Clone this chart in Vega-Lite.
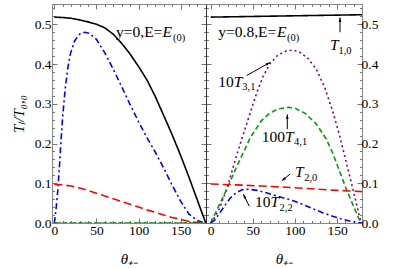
{
  "$schema": "https://vega.github.io/schema/vega-lite/v6.json",
  "padding": {"left": 10, "top": 0, "right": 0, "bottom": 0},
  "spacing": 0,
  "bounds": "flush",
  "config": {
    "font": "Liberation Serif",
    "view": {"stroke": "#888", "strokeWidth": 1},
    "axis": {"grid": false, "domain": false, "tickColor": "#777", "labelColor": "black", "labelFont": "Liberation Serif", "labelFontSize": 13.5, "titleFont": "Liberation Serif", "titleFontWeight": "normal", "titleFontStyle": "italic", "titleFontSize": 15, "titleColor": "black", "labelOverlap": false, "labelFlush": false}
  },
  "datasets": {
    "curves": [
      {"p":"a","s":"T10","t":0,"v":0.518},{"p":"a","s":"T10","t":10,"v":0.517},{"p":"a","s":"T10","t":20,"v":0.515},{"p":"a","s":"T10","t":30,"v":0.511},{"p":"a","s":"T10","t":40,"v":0.506},{"p":"a","s":"T10","t":50,"v":0.5},{"p":"a","s":"T10","t":60,"v":0.491},{"p":"a","s":"T10","t":70,"v":0.475},{"p":"a","s":"T10","t":80,"v":0.452},{"p":"a","s":"T10","t":90,"v":0.425},{"p":"a","s":"T10","t":100,"v":0.394},{"p":"a","s":"T10","t":110,"v":0.36},{"p":"a","s":"T10","t":120,"v":0.318},{"p":"a","s":"T10","t":130,"v":0.27},{"p":"a","s":"T10","t":140,"v":0.222},{"p":"a","s":"T10","t":150,"v":0.17},{"p":"a","s":"T10","t":160,"v":0.115},{"p":"a","s":"T10","t":170,"v":0.057},{"p":"a","s":"T10","t":175,"v":0.028},{"p":"a","s":"T10","t":180,"v":0},
      {"p":"a","s":"T22","t":0,"v":0},{"p":"a","s":"T22","t":2,"v":0.035},{"p":"a","s":"T22","t":4,"v":0.08},{"p":"a","s":"T22","t":6,"v":0.14},{"p":"a","s":"T22","t":8,"v":0.21},{"p":"a","s":"T22","t":10,"v":0.27},{"p":"a","s":"T22","t":13,"v":0.34},{"p":"a","s":"T22","t":16,"v":0.39},{"p":"a","s":"T22","t":19,"v":0.425},{"p":"a","s":"T22","t":24,"v":0.458},{"p":"a","s":"T22","t":30,"v":0.475},{"p":"a","s":"T22","t":36,"v":0.48},{"p":"a","s":"T22","t":42,"v":0.477},{"p":"a","s":"T22","t":50,"v":0.462},{"p":"a","s":"T22","t":60,"v":0.428},{"p":"a","s":"T22","t":70,"v":0.387},{"p":"a","s":"T22","t":80,"v":0.343},{"p":"a","s":"T22","t":90,"v":0.298},{"p":"a","s":"T22","t":100,"v":0.255},{"p":"a","s":"T22","t":110,"v":0.215},{"p":"a","s":"T22","t":120,"v":0.178},{"p":"a","s":"T22","t":130,"v":0.138},{"p":"a","s":"T22","t":140,"v":0.095},{"p":"a","s":"T22","t":150,"v":0.055},{"p":"a","s":"T22","t":160,"v":0.022},{"p":"a","s":"T22","t":170,"v":0.006},{"p":"a","s":"T22","t":177,"v":0.001},{"p":"a","s":"T22","t":180,"v":0},
      {"p":"a","s":"T20","t":0,"v":0.097},{"p":"a","s":"T20","t":10,"v":0.096},{"p":"a","s":"T20","t":20,"v":0.093},{"p":"a","s":"T20","t":30,"v":0.088},{"p":"a","s":"T20","t":40,"v":0.082},{"p":"a","s":"T20","t":50,"v":0.075},{"p":"a","s":"T20","t":60,"v":0.068},{"p":"a","s":"T20","t":70,"v":0.061},{"p":"a","s":"T20","t":80,"v":0.054},{"p":"a","s":"T20","t":90,"v":0.047},{"p":"a","s":"T20","t":100,"v":0.04},{"p":"a","s":"T20","t":110,"v":0.033},{"p":"a","s":"T20","t":120,"v":0.027},{"p":"a","s":"T20","t":130,"v":0.02},{"p":"a","s":"T20","t":140,"v":0.014},{"p":"a","s":"T20","t":150,"v":0.009},{"p":"a","s":"T20","t":160,"v":0.004},{"p":"a","s":"T20","t":170,"v":0.001},{"p":"a","s":"T20","t":180,"v":0},
      {"p":"a","s":"T31","t":0,"v":0},{"p":"a","s":"T31","t":45,"v":0},{"p":"a","s":"T31","t":90,"v":0},{"p":"a","s":"T31","t":135,"v":0},{"p":"a","s":"T31","t":180,"v":0},
      {"p":"a","s":"T41","t":0,"v":0},{"p":"a","s":"T41","t":45,"v":0},{"p":"a","s":"T41","t":90,"v":0},{"p":"a","s":"T41","t":135,"v":0},{"p":"a","s":"T41","t":180,"v":0},
      {"p":"b","s":"T10","t":0,"v":0.518},{"p":"b","s":"T10","t":90,"v":0.521},{"p":"b","s":"T10","t":180,"v":0.524},
      {"p":"b","s":"T31","t":0,"v":0},{"p":"b","s":"T31","t":5,"v":0.015},{"p":"b","s":"T31","t":10,"v":0.035},{"p":"b","s":"T31","t":19,"v":0.085},{"p":"b","s":"T31","t":30,"v":0.165},{"p":"b","s":"T31","t":40,"v":0.232},{"p":"b","s":"T31","t":47,"v":0.278},{"p":"b","s":"T31","t":55,"v":0.33},{"p":"b","s":"T31","t":62,"v":0.368},{"p":"b","s":"T31","t":70,"v":0.4},{"p":"b","s":"T31","t":80,"v":0.423},{"p":"b","s":"T31","t":90,"v":0.433},{"p":"b","s":"T31","t":98,"v":0.435},{"p":"b","s":"T31","t":105,"v":0.431},{"p":"b","s":"T31","t":115,"v":0.415},{"p":"b","s":"T31","t":125,"v":0.388},{"p":"b","s":"T31","t":135,"v":0.343},{"p":"b","s":"T31","t":145,"v":0.28},{"p":"b","s":"T31","t":153,"v":0.22},{"p":"b","s":"T31","t":161,"v":0.152},{"p":"b","s":"T31","t":170,"v":0.075},{"p":"b","s":"T31","t":177,"v":0.012},{"p":"b","s":"T31","t":180,"v":0},
      {"p":"b","s":"T41","t":0,"v":0},{"p":"b","s":"T41","t":10,"v":0.045},{"p":"b","s":"T41","t":21,"v":0.094},{"p":"b","s":"T41","t":30,"v":0.138},{"p":"b","s":"T41","t":39,"v":0.178},{"p":"b","s":"T41","t":47,"v":0.215},{"p":"b","s":"T41","t":60,"v":0.257},{"p":"b","s":"T41","t":70,"v":0.276},{"p":"b","s":"T41","t":80,"v":0.287},{"p":"b","s":"T41","t":92,"v":0.291},{"p":"b","s":"T41","t":100,"v":0.289},{"p":"b","s":"T41","t":112,"v":0.276},{"p":"b","s":"T41","t":125,"v":0.25},{"p":"b","s":"T41","t":137,"v":0.212},{"p":"b","s":"T41","t":145,"v":0.175},{"p":"b","s":"T41","t":153,"v":0.13},{"p":"b","s":"T41","t":161,"v":0.085},{"p":"b","s":"T41","t":170,"v":0.04},{"p":"b","s":"T41","t":177,"v":0.005},{"p":"b","s":"T41","t":180,"v":0},
      {"p":"b","s":"T20","t":0,"v":0.098},{"p":"b","s":"T20","t":30,"v":0.096},{"p":"b","s":"T20","t":60,"v":0.093},{"p":"b","s":"T20","t":90,"v":0.09},{"p":"b","s":"T20","t":120,"v":0.086},{"p":"b","s":"T20","t":150,"v":0.082},{"p":"b","s":"T20","t":180,"v":0.079},
      {"p":"b","s":"T22","t":0,"v":0},{"p":"b","s":"T22","t":5,"v":0.008},{"p":"b","s":"T22","t":11,"v":0.026},{"p":"b","s":"T22","t":17,"v":0.045},{"p":"b","s":"T22","t":23,"v":0.062},{"p":"b","s":"T22","t":30,"v":0.076},{"p":"b","s":"T22","t":38,"v":0.084},{"p":"b","s":"T22","t":45,"v":0.085},{"p":"b","s":"T22","t":55,"v":0.082},{"p":"b","s":"T22","t":66,"v":0.076},{"p":"b","s":"T22","t":80,"v":0.067},{"p":"b","s":"T22","t":90,"v":0.061},{"p":"b","s":"T22","t":98,"v":0.056},{"p":"b","s":"T22","t":110,"v":0.046},{"p":"b","s":"T22","t":120,"v":0.037},{"p":"b","s":"T22","t":133,"v":0.026},{"p":"b","s":"T22","t":145,"v":0.017},{"p":"b","s":"T22","t":157,"v":0.009},{"p":"b","s":"T22","t":167,"v":0.004},{"p":"b","s":"T22","t":175,"v":0.001},{"p":"b","s":"T22","t":180,"v":0}
    ],
    "roman": [
      {"p":"a","x":73.3,"y":0.467,"text":"y=0,E="},
      {"p":"b","x":9.0,"y":0.467,"text":"y=0.8,E="},
      {"p":"b","x":9.0,"y":0.342,"text":"10"},
      {"p":"b","x":60.5,"y":0.205,"text":"100"},
      {"p":"b","x":52.6,"y":0.039,"text":"10"}
    ],
    "italic": [
      {"p":"a","x":128.5,"y":0.467,"text":"E"},
      {"p":"b","x":78.7,"y":0.467,"text":"E"},
      {"p":"b","x":141.6,"y":0.4345,"text":"T"},
      {"p":"b","x":27.4,"y":0.342,"text":"T"},
      {"p":"b","x":88.2,"y":0.205,"text":"T"},
      {"p":"b","x":100.1,"y":0.1146,"text":"T"},
      {"p":"b","x":71.0,"y":0.039,"text":"T"}
    ],
    "sub": [
      {"p":"a","x":141.0,"y":0.458,"text":"(0)"},
      {"p":"b","x":90.6,"y":0.458,"text":"(0)"},
      {"p":"b","x":151.7,"y":0.4257,"text":"1,0"},
      {"p":"b","x":37.5,"y":0.334,"text":"3,1"},
      {"p":"b","x":99.0,"y":0.196,"text":"4,1"},
      {"p":"b","x":110.9,"y":0.1058,"text":"2,0"},
      {"p":"b","x":81.8,"y":0.03,"text":"2,2"}
    ],
    "arrows": [
      {"s":"T10","x":153.5,"y":0.48,"x2":153.5,"y2":0.517},
      {"s":"T31","x":42.7,"y":0.371,"x2":70.4,"y2":0.404},
      {"s":"T41","x":90.9,"y":0.236,"x2":90.9,"y2":0.273},
      {"s":"T20","x":94.1,"y":0.123,"x2":84.3,"y2":0.106},
      {"s":"T22","x":45.8,"y":0.042,"x2":38.7,"y2":0.0725}
    ]
  },
  "hconcat": [
    {
      "width": 154,
      "height": 219,
      "resolve": {"axis": {"x": "independent", "y": "independent"}},
      "layer": [
        {
          "data": {"name": "curves"},
          "transform": [{"filter": "datum.p === 'a'"}],
          "mark": {"type": "line", "strokeWidth": 1.6, "clip": true},
          "encoding": {
            "x": {"field": "t", "type": "quantitative", "title": "θ₊₋",
              "scale": {"domain": [-2.8, 180.2], "nice": false, "zero": false},
              "axis": {"orient": "bottom", "values": [0,10,20,30,40,50,60,70,80,90,100,110,120,130,140,150,160,170,180],
                "labelExpr": "datum.value % 50 === 0 ? datum.label : ''",
                "tickSize": {"condition": {"test": "datum.value % 50 === 0", "value": -5}, "value": -2.5},
                "labelPadding": 5, "titlePadding": 12}},
            "y": {"field": "v", "type": "quantitative", "title": "Tₗ/T₀,₀",
              "scale": {"domain": [0, 0.551], "nice": false},
              "axis": {"orient": "left", "values": [0,0.02,0.04,0.06,0.08,0.1,0.12,0.14,0.16,0.18,0.2,0.22,0.24,0.26,0.28,0.3,0.32,0.34,0.36,0.38,0.4,0.42,0.44,0.46,0.48,0.5,0.52,0.54],
                "labelExpr": "abs(datum.value*10 - round(datum.value*10)) < 0.001 ? format(datum.value, '.1f') : ''",
                "tickSize": {"condition": {"test": "abs(datum.value*10 - round(datum.value*10)) < 0.001", "value": -5}, "value": -2.5},
                "labelPadding": 6, "titlePadding": 8}},
            "color": {"field": "s", "type": "nominal", "legend": null,
              "scale": {"domain": ["T10","T22","T20","T41","T31"], "range": ["#000000","#0000ff","#ff0000","#00a000","#800080"]}},
            "strokeDash": {"field": "s", "type": "nominal", "legend": null,
              "scale": {"domain": ["T10","T22","T20","T41","T31"], "range": [[1,0],[6,3,2,3],[8,4],[5,3],[2,3]]}}
          }
        },
        {
          "data": {"name": "curves"},
          "transform": [{"filter": "datum.p === 'a'"}],
          "mark": {"type": "point", "opacity": 0},
          "encoding": {
            "x": {"field": "t", "type": "quantitative",
              "axis": {"orient": "top", "title": null, "labels": false, "values": [0,10,20,30,40,50,60,70,80,90,100,110,120,130,140,150,160,170,180],
                "tickSize": {"condition": {"test": "datum.value % 50 === 0", "value": -5}, "value": -2.5}}},
            "y": {"field": "v", "type": "quantitative",
              "axis": {"orient": "right", "title": null, "labels": false, "values": [0,0.02,0.04,0.06,0.08,0.1,0.12,0.14,0.16,0.18,0.2,0.22,0.24,0.26,0.28,0.3,0.32,0.34,0.36,0.38,0.4,0.42,0.44,0.46,0.48,0.5,0.52,0.54],
                "tickSize": {"condition": {"test": "abs(datum.value*10 - round(datum.value*10)) < 0.001", "value": -5}, "value": -2.5}}}
          }
        },
        {
          "data": {"name": "roman"},
          "transform": [{"filter": "datum.p === 'a'"}],
          "mark": {"type": "text", "align": "left", "baseline": "alphabetic", "fontSize": 15.5, "color": "black"},
          "encoding": {"x": {"field": "x", "type": "quantitative", "axis": null}, "y": {"field": "y", "type": "quantitative", "axis": null}, "text": {"field": "text"}}
        },
        {
          "data": {"name": "italic"},
          "transform": [{"filter": "datum.p === 'a'"}],
          "mark": {"type": "text", "align": "left", "baseline": "alphabetic", "fontSize": 15.5, "fontStyle": "italic", "color": "black"},
          "encoding": {"x": {"field": "x", "type": "quantitative", "axis": null}, "y": {"field": "y", "type": "quantitative", "axis": null}, "text": {"field": "text"}}
        },
        {
          "data": {"name": "sub"},
          "transform": [{"filter": "datum.p === 'a'"}],
          "mark": {"type": "text", "align": "left", "baseline": "alphabetic", "fontSize": 10.5, "color": "black"},
          "encoding": {"x": {"field": "x", "type": "quantitative", "axis": null}, "y": {"field": "y", "type": "quantitative", "axis": null}, "text": {"field": "text"}}
        }
      ]
    },
    {
      "width": 156,
      "height": 219,
      "resolve": {"axis": {"x": "independent", "y": "independent"}},
      "layer": [
        {
          "data": {"name": "curves"},
          "transform": [{"filter": "datum.p === 'b'"}],
          "mark": {"type": "line", "strokeWidth": 1.6, "clip": true},
          "encoding": {
            "x": {"field": "t", "type": "quantitative", "title": "θ₊₋",
              "scale": {"domain": [-5.6, 179.6], "nice": false, "zero": false},
              "axis": {"orient": "bottom", "values": [0,10,20,30,40,50,60,70,80,90,100,110,120,130,140,150,160,170,180],
                "labelExpr": "datum.value % 50 === 0 ? datum.label : ''",
                "tickSize": {"condition": {"test": "datum.value % 50 === 0", "value": -5}, "value": -2.5},
                "labelPadding": 5, "titlePadding": 12}},
            "y": {"field": "v", "type": "quantitative", "title": null,
              "scale": {"domain": [0, 0.551], "nice": false},
              "axis": {"orient": "right", "values": [0,0.02,0.04,0.06,0.08,0.1,0.12,0.14,0.16,0.18,0.2,0.22,0.24,0.26,0.28,0.3,0.32,0.34,0.36,0.38,0.4,0.42,0.44,0.46,0.48,0.5,0.52,0.54],
                "labelExpr": "abs(datum.value*10 - round(datum.value*10)) < 0.001 ? format(datum.value, '.1f') : ''",
                "tickSize": {"condition": {"test": "abs(datum.value*10 - round(datum.value*10)) < 0.001", "value": -5}, "value": -2.5},
                "labelPadding": 4}},
            "color": {"field": "s", "type": "nominal", "legend": null,
              "scale": {"domain": ["T10","T22","T20","T41","T31"], "range": ["#000000","#0000ff","#ff0000","#00a000","#800080"]}},
            "strokeDash": {"field": "s", "type": "nominal", "legend": null,
              "scale": {"domain": ["T10","T22","T20","T41","T31"], "range": [[1,0],[6,3,2,3],[8,4],[5,3],[2,3]]}}
          }
        },
        {
          "data": {"name": "curves"},
          "transform": [{"filter": "datum.p === 'b'"}],
          "mark": {"type": "point", "opacity": 0},
          "encoding": {
            "x": {"field": "t", "type": "quantitative",
              "axis": {"orient": "top", "title": null, "labels": false, "values": [0,10,20,30,40,50,60,70,80,90,100,110,120,130,140,150,160,170,180],
                "tickSize": {"condition": {"test": "datum.value % 50 === 0", "value": -5}, "value": -2.5}}},
            "y": {"field": "v", "type": "quantitative",
              "axis": {"orient": "left", "title": null, "labels": false, "domain": true, "domainColor": "#333", "values": [0,0.02,0.04,0.06,0.08,0.1,0.12,0.14,0.16,0.18,0.2,0.22,0.24,0.26,0.28,0.3,0.32,0.34,0.36,0.38,0.4,0.42,0.44,0.46,0.48,0.5,0.52,0.54],
                "tickSize": {"condition": {"test": "abs(datum.value*10 - round(datum.value*10)) < 0.001", "value": -5}, "value": -2.5}}}
          }
        },
        {
          "data": {"name": "arrows"},
          "mark": {"type": "rule", "strokeWidth": 1, "color": "black"},
          "encoding": {"x": {"field": "x", "type": "quantitative", "axis": null}, "y": {"field": "y", "type": "quantitative", "axis": null}, "x2": {"field": "x2"}, "y2": {"field": "y2"}}
        },
        {
          "data": {"name": "arrows"},
          "transform": [{"filter": "datum.s === 'T10' || datum.s === 'T41'"}],
          "mark": {"type": "point", "shape": "M0,0L-0.6,2L0.6,2Z", "filled": true, "color": "black", "opacity": 1, "size": 20, "angle": 0},
          "encoding": {"x": {"field": "x2", "type": "quantitative", "axis": null}, "y": {"field": "y2", "type": "quantitative", "axis": null}}
        },
        {
          "data": {"name": "arrows"},
          "transform": [{"filter": "datum.s === 'T31'"}],
          "mark": {"type": "point", "shape": "M0,0L-0.6,2L0.6,2Z", "filled": true, "color": "black", "opacity": 1, "size": 20, "angle": 60},
          "encoding": {"x": {"field": "x2", "type": "quantitative", "axis": null}, "y": {"field": "y2", "type": "quantitative", "axis": null}}
        },
        {
          "data": {"name": "arrows"},
          "transform": [{"filter": "datum.s === 'T20'"}],
          "mark": {"type": "point", "shape": "M0,0L-0.6,2L0.6,2Z", "filled": true, "color": "black", "opacity": 1, "size": 20, "angle": 232},
          "encoding": {"x": {"field": "x2", "type": "quantitative", "axis": null}, "y": {"field": "y2", "type": "quantitative", "axis": null}}
        },
        {
          "data": {"name": "arrows"},
          "transform": [{"filter": "datum.s === 'T22'"}],
          "mark": {"type": "point", "shape": "M0,0L-0.6,2L0.6,2Z", "filled": true, "color": "black", "opacity": 1, "size": 20, "angle": 334},
          "encoding": {"x": {"field": "x2", "type": "quantitative", "axis": null}, "y": {"field": "y2", "type": "quantitative", "axis": null}}
        },
        {
          "data": {"name": "roman"},
          "transform": [{"filter": "datum.p === 'b'"}],
          "mark": {"type": "text", "align": "left", "baseline": "alphabetic", "fontSize": 15.5, "color": "black"},
          "encoding": {"x": {"field": "x", "type": "quantitative", "axis": null}, "y": {"field": "y", "type": "quantitative", "axis": null}, "text": {"field": "text"}}
        },
        {
          "data": {"name": "italic"},
          "transform": [{"filter": "datum.p === 'b'"}],
          "mark": {"type": "text", "align": "left", "baseline": "alphabetic", "fontSize": 15.5, "fontStyle": "italic", "color": "black"},
          "encoding": {"x": {"field": "x", "type": "quantitative", "axis": null}, "y": {"field": "y", "type": "quantitative", "axis": null}, "text": {"field": "text"}}
        },
        {
          "data": {"name": "sub"},
          "transform": [{"filter": "datum.p === 'b'"}],
          "mark": {"type": "text", "align": "left", "baseline": "alphabetic", "fontSize": 10.5, "color": "black"},
          "encoding": {"x": {"field": "x", "type": "quantitative", "axis": null}, "y": {"field": "y", "type": "quantitative", "axis": null}, "text": {"field": "text"}}
        }
      ]
    }
  ]
}
